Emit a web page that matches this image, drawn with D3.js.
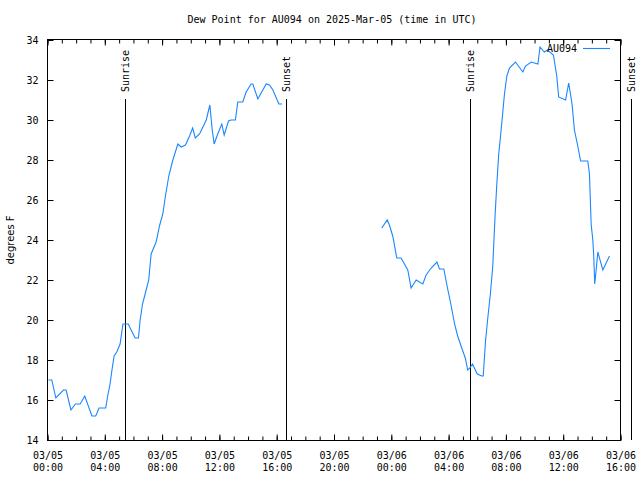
<!DOCTYPE html>
<html><head><meta charset="utf-8">
<script src="https://cdn.jsdelivr.net/npm/d3@7"></script>
<style>
body{margin:0;background:#fff;}
svg{display:block;}
text{font-family:"DejaVu Sans Mono",monospace;font-size:10px;fill:#000;}
</style></head>
<body><svg id="c" width="640" height="480"></svg>
<script>
const title = "Dew Point for AU094 on 2025-Mar-05 (time in UTC)";
const seriesName = "AU094";
const yLabel = "degrees F";
const yTicks = [14,16,18,20,22,24,26,28,30,32,34];
const xStart = "2025-03-05 00:00", xEnd = "2025-03-06 16:00";
const sunEvents = [["Sunrise","2025-03-05 05:23"],["Sunset","2025-03-05 16:37"],["Sunrise","2025-03-06 05:30"],["Sunset","2025-03-06 16:43"]];
const times = [
"2025-03-05 00:04","2025-03-05 00:18","2025-03-05 00:35","2025-03-05 01:07","2025-03-05 01:18","2025-03-05 01:38","2025-03-05 01:57","2025-03-05 02:17","2025-03-05 02:36","2025-03-05 03:06","2025-03-05 03:22","2025-03-05 03:36","2025-03-05 04:04","2025-03-05 04:12","2025-03-05 04:22","2025-03-05 04:30","2025-03-05 04:39","2025-03-05 04:50","2025-03-05 05:04","2025-03-05 05:16","2025-03-05 05:38","2025-03-05 06:07","2025-03-05 06:21","2025-03-05 06:28","2025-03-05 06:38","2025-03-05 06:49","2025-03-05 07:04","2025-03-05 07:14","2025-03-05 07:35","2025-03-05 07:49","2025-03-05 08:03","2025-03-05 08:14","2025-03-05 08:28","2025-03-05 08:45","2025-03-05 09:06","2025-03-05 09:20","2025-03-05 09:38","2025-03-05 09:55","2025-03-05 10:08","2025-03-05 10:19","2025-03-05 10:37","2025-03-05 11:05","2025-03-05 11:20","2025-03-05 11:30","2025-03-05 11:38","2025-03-05 11:53","2025-03-05 12:10","2025-03-05 12:20","2025-03-05 12:38","2025-03-05 12:49","2025-03-05 13:07","2025-03-05 13:17","2025-03-05 13:38","2025-03-05 13:52","2025-03-05 14:13","2025-03-05 14:20","2025-03-05 14:41","2025-03-05 15:16","2025-03-05 15:30","2025-03-05 15:44","2025-03-05 16:09","2025-03-05 16:23",
"2025-03-05 20:00",
"2025-03-05 23:20","2025-03-05 23:43","2025-03-05 23:52","2025-03-06 00:06","2025-03-06 00:23","2025-03-06 00:41","2025-03-06 00:55","2025-03-06 01:09","2025-03-06 01:23","2025-03-06 01:44","2025-03-06 02:12","2025-03-06 02:26","2025-03-06 02:47","2025-03-06 03:11","2025-03-06 03:22","2025-03-06 03:40","2025-03-06 03:57","2025-03-06 04:11","2025-03-06 04:25","2025-03-06 04:38","2025-03-06 04:55","2025-03-06 05:10","2025-03-06 05:20","2025-03-06 05:29","2025-03-06 05:40","2025-03-06 06:00","2025-03-06 06:19","2025-03-06 06:25","2025-03-06 06:35","2025-03-06 06:45","2025-03-06 06:55","2025-03-06 07:05","2025-03-06 07:15","2025-03-06 07:22","2025-03-06 07:30","2025-03-06 07:40","2025-03-06 07:54","2025-03-06 08:04","2025-03-06 08:15","2025-03-06 08:40","2025-03-06 09:11","2025-03-06 09:22","2025-03-06 09:46","2025-03-06 10:14","2025-03-06 10:23","2025-03-06 10:41","2025-03-06 10:54","2025-03-06 11:19","2025-03-06 11:33","2025-03-06 11:41","2025-03-06 12:10","2025-03-06 12:23","2025-03-06 12:37","2025-03-06 12:47","2025-03-06 13:01","2025-03-06 13:13","2025-03-06 13:43","2025-03-06 13:50","2025-03-06 13:57","2025-03-06 14:04","2025-03-06 14:08","2025-03-06 14:12","2025-03-06 14:18","2025-03-06 14:25","2025-03-06 14:46","2025-03-06 15:14"];
const values = [
17.0,17.0,16.1,16.5,16.5,15.5,15.8,15.8,16.2,15.2,15.2,15.6,15.6,16.2,16.8,17.5,18.2,18.4,18.8,19.8,19.8,19.1,19.1,20.0,20.8,21.3,22.0,23.3,23.9,24.7,25.3,26.2,27.2,28.0,28.8,28.65,28.75,29.2,29.6,29.1,29.3,30.0,30.75,29.5,28.8,29.3,29.8,29.25,29.95,30.0,30.0,30.9,30.9,31.4,31.8,31.8,31.05,31.8,31.75,31.5,30.8,30.8,
null,
24.6,25.0,24.75,24.2,23.1,23.1,22.8,22.5,21.6,22.0,21.8,22.25,22.6,22.9,22.55,22.55,21.5,20.7,19.8,19.2,18.6,18.1,17.5,17.6,17.8,17.3,17.2,17.2,19.0,20.2,21.3,22.7,25.3,26.8,28.3,29.5,31.3,32.2,32.6,32.9,32.4,32.7,32.9,32.8,33.65,33.4,33.5,33.25,32.2,31.15,31.0,31.85,30.8,29.5,28.7,27.95,27.95,27.3,24.8,24.0,23.2,21.8,22.5,23.4,22.5,23.2];

const parse = d3.utcParse("%Y-%m-%d %H:%M");
const data = times.map((t,i)=>({t:parse(t), v:values[i]}));
const svg = d3.select("#c");
const L=47.5, R=620.5, T=40, B=440;
const x = d3.scaleUtc().domain([parse(xStart), parse(xEnd)]).range([L, R]);
const y = d3.scaleLinear().domain([14,34]).range([B, T]);
const lineColor = "#1a86ff";

// title
svg.append("text").attr("x",332).attr("y",23).attr("text-anchor","middle").text(title);

// axes
const majorX = d3.utcHour.every(4).range(parse(xStart), new Date(+parse(xEnd)+1));
const minorX = d3.utcHour.every(1).range(parse(xStart), new Date(+parse(xEnd)+1));
const fmtD = d3.utcFormat("%m/%d"), fmtT = d3.utcFormat("%H:%M");

const gx = svg.append("g").attr("transform",`translate(0,${B+0.5})`)
  .call(d3.axisBottom(x).tickValues(minorX).tickSize(-4).tickFormat(""));
gx.select(".domain").remove();
svg.append("g").attr("transform",`translate(0,${T-0.5})`)
  .call(d3.axisTop(x).tickValues(minorX).tickSize(-4).tickFormat(""))
  .select(".domain").remove();
const gxl = svg.append("g").attr("transform",`translate(0,${B+0.5})`)
  .call(d3.axisBottom(x).tickValues(majorX).tickSize(-6).tickFormat(""));
gxl.select(".domain").remove();
gxl.selectAll(".tick").each(function(d){
  const t = d3.select(this).append("text").attr("text-anchor","middle").attr("fill","#000");
  t.append("tspan").attr("x",0).attr("y",18).text(fmtD(d));
  t.append("tspan").attr("x",0).attr("y",30).text(fmtT(d));
});
svg.append("g").attr("transform",`translate(0,${T-0.5})`)
  .call(d3.axisTop(x).tickValues(majorX).tickSize(-6).tickFormat(""))
  .select(".domain").remove();

const gy = svg.append("g").attr("transform",`translate(${L},0)`)
  .call(d3.axisLeft(y).tickValues(yTicks).tickSize(-6).tickPadding(9).tickFormat(d3.format("d")));
gy.select(".domain").remove();
gy.selectAll("text").attr("font-family","DejaVu Sans Mono").attr("font-size",10);
svg.append("g").attr("transform",`translate(${R},0)`)
  .call(d3.axisRight(y).tickValues(yTicks).tickSize(-6).tickFormat(""))
  .select(".domain").remove();
svg.selectAll(".tick line").attr("stroke","#000");

// border
svg.append("rect").attr("x",L).attr("y",T-0.5).attr("width",R-L).attr("height",B-T+1)
  .attr("fill","none").attr("stroke","#000");

// y label
svg.append("text").attr("transform","translate(14,240) rotate(-90)").attr("text-anchor","middle")
  .style("font-family","DejaVu Sans, sans-serif").text(yLabel);

// sun events
sunEvents.forEach(([name,t])=>{
  const xx = Math.round(x(parse(t)))+0.5;
  svg.append("line").attr("x1",xx).attr("x2",xx).attr("y1",y(31)-1).attr("y2",B)
    .attr("stroke","#000").attr("stroke-width",1);
  svg.append("text").attr("transform",`translate(${xx+3.5},${y(31)-8}) rotate(-90)`)
    .attr("text-anchor","start").text(name);
});

// data line
const line = d3.line().defined(d=>d.v!==null).x(d=>x(d.t)).y(d=>y(d.v));
svg.append("path").datum(data).attr("d",line).attr("fill","none")
  .attr("stroke",lineColor).attr("stroke-width",1.1);

// legend
svg.append("text").attr("x",577).attr("y",52).attr("text-anchor","end").text(seriesName);
svg.append("line").attr("x1",583).attr("x2",610).attr("y1",48.5).attr("y2",48.5)
  .attr("stroke",lineColor).attr("stroke-width",1.1);
</script></body></html>
